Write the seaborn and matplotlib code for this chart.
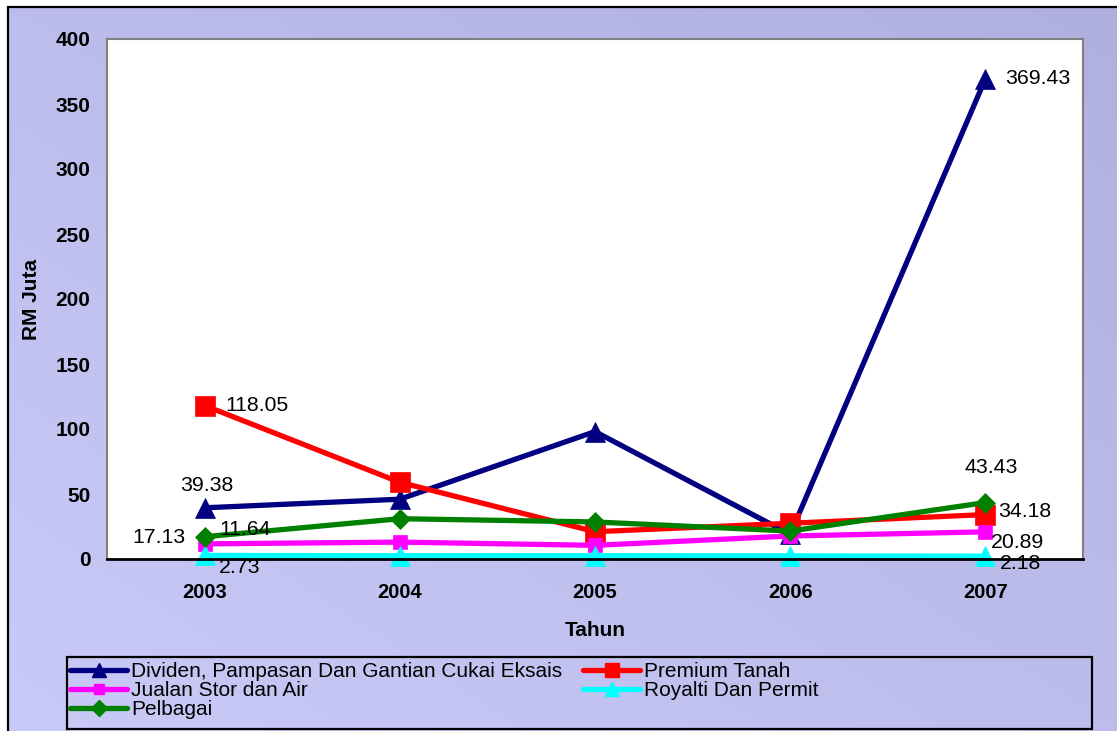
import numpy as np
import matplotlib
matplotlib.use("Agg")
import matplotlib.pyplot as plt
from matplotlib.patches import Rectangle
from matplotlib.lines import Line2D
import seaborn as sns

# ---- data ----
years = ["2003", "2004", "2005", "2006", "2007"]
dividen = [39.38, 46.0, 98.0, 19.0, 369.43]
premium = [118.05, 59.0, 21.0, 27.5, 34.18]
jualan = [11.64, 13.0, 10.5, 17.7, 20.89]
royalti = [2.73, 2.5, 2.5, 2.4, 2.18]
pelbagai = [17.13, 31.0, 28.5, 21.5, 43.43]

names = ["Dividen, Pampasan Dan Gantian Cukai Eksais", "Premium Tanah",
         "Jualan Stor dan Air", "Royalti Dan Permit", "Pelbagai"]
series = [dividen, premium, jualan, royalti, pelbagai]

# ---- styles ----
colors = ["#000080", "#FF0000", "#FF00FF", "#00FFFF", "#008000"]
markers = ["^", "s", "s", "^", "D"]
msizes = [14, 14, 10, 14, 10.5]

sns.set_style("white")
plt.rcParams["font.family"] = ["Liberation Sans", "DejaVu Sans"]
plt.rcParams["text.color"] = "black"
plt.rcParams["axes.labelcolor"] = "black"
plt.rcParams["xtick.color"] = "black"
plt.rcParams["ytick.color"] = "black"

W, H = 1117, 731
fig = plt.figure(figsize=(W / 100, H / 100), dpi=100, facecolor="white")

# gradient background inside the outer border
bg = fig.add_axes([0, 0, 1, 1], zorder=-5)
bg.set_xlim(0, 1); bg.set_ylim(0, 1); bg.axis("off")
gx, gy = np.meshgrid(np.linspace(0, 1, 200), np.linspace(1, 0, 200))
t = (gx + gy) / 2
c0 = np.array([202, 202, 248]) / 255.0
c1 = np.array([176, 176, 224]) / 255.0
img = c0[None, None, :] * (1 - t[..., None]) + c1[None, None, :] * t[..., None]
bg.imshow(img, extent=[8 / W, 1, 0, 1 - 7 / H], aspect="auto", interpolation="bilinear")
fig.patches.append(Rectangle((8 / W, -0.02), 1.05, 1 - 7 / H + 0.02, transform=fig.transFigure,
                             fill=False, edgecolor="black", linewidth=1.6))

ax = fig.add_axes([107 / W, 1 - 559 / H, 976 / W, 520 / H], zorder=1)
ax.set_facecolor("white")

x = np.arange(len(years))
for vals, name, c, m, ms in zip(series, names, colors, markers, msizes):
    sns.lineplot(x=x, y=vals, ax=ax, color=c, marker=m, markersize=ms,
                 markeredgecolor=c, markeredgewidth=0.5, linewidth=3.8,
                 label=name, legend=False, clip_on=False)

ax.set_xlim(-0.5, 4.5)
ax.set_ylim(0, 400)
ax.set_yticks(np.arange(0, 401, 50))
ax.set_xticks(x)
ax.set_xticklabels(years)
ax.set_xticks(np.arange(-0.5, 4.6, 1), minor=True)
ax.tick_params(axis="x", which="major", length=0, pad=17.5, labelsize=14.5, labelcolor="black")
ax.tick_params(axis="x", which="minor", length=5.5, width=1.5, direction="out", color="black")
ax.tick_params(axis="y", length=0, pad=12, labelsize=15, labelcolor="black")
for lab in ax.get_xticklabels() + ax.get_yticklabels():
    lab.set_fontweight("bold")

for s in ["left", "top", "right"]:
    ax.spines[s].set_color("#808080")
    ax.spines[s].set_linewidth(1.5)
ax.spines["bottom"].set_color("black")
ax.spines["bottom"].set_linewidth(2)
ax.grid(False)

ax.set_xlabel("Tahun", fontsize=15, fontweight="bold", va="top", color="black")
ax.xaxis.set_label_coords(0.5, -0.1195)
ax.set_ylabel("RM Juta", fontsize=15, fontweight="bold", va="center", color="black")
ax.yaxis.set_label_coords(-0.0775, 0.5)

# data labels: (series index, point index) -> offset in pixels, ha
label_pos = {
    (0, 0): (2, 22, "center"), (1, 0): (21, 0, "left"), (4, 0): (-19, -1, "right"),
    (2, 0): (15, 14, "left"), (3, 0): (14, -12, "left"),
    (0, 4): (20, 0, "left"), (4, 4): (6, 35, "center"), (1, 4): (13, 3, "left"),
    (2, 4): (5, -11, "left"), (3, 4): (14, -7, "left"),
}
for (si, pi), (dx, dy, ha) in label_pos.items():
    v = series[si][pi]
    ax.annotate(f"{v:.2f}", (x[pi], v), xytext=(dx, dy), textcoords="offset pixels",
                ha=ha, va="center", fontsize=15.3, color="black", zorder=10,
                annotation_clip=False)

# legend
handles = [Line2D([0], [0], color=c, marker=m, markersize=ms * 0.75, linewidth=3.8,
                  markeredgecolor=c) for c, m, ms in zip(colors, markers, msizes)]
common = dict(frameon=False, fontsize=15, handlelength=2.75, handletextpad=0.2,
              labelspacing=0.0, borderpad=0, borderaxespad=0, loc="upper left")
fig.legend([handles[0], handles[2], handles[4]], [names[0], names[2], names[4]],
           bbox_to_anchor=(70 / W, 1 - 662 / H), **common)
fig.legend([handles[1], handles[3]], [names[1], names[3]],
           bbox_to_anchor=(583 / W, 1 - 662 / H), **common)
fig.patches.append(Rectangle((67 / W, 1 - 729 / H), (1092 - 67) / W, (729 - 657) / H,
                             transform=fig.transFigure, fill=False, edgecolor="black",
                             linewidth=1.6))

fig.savefig("out.png", dpi=100, facecolor=fig.get_facecolor())
